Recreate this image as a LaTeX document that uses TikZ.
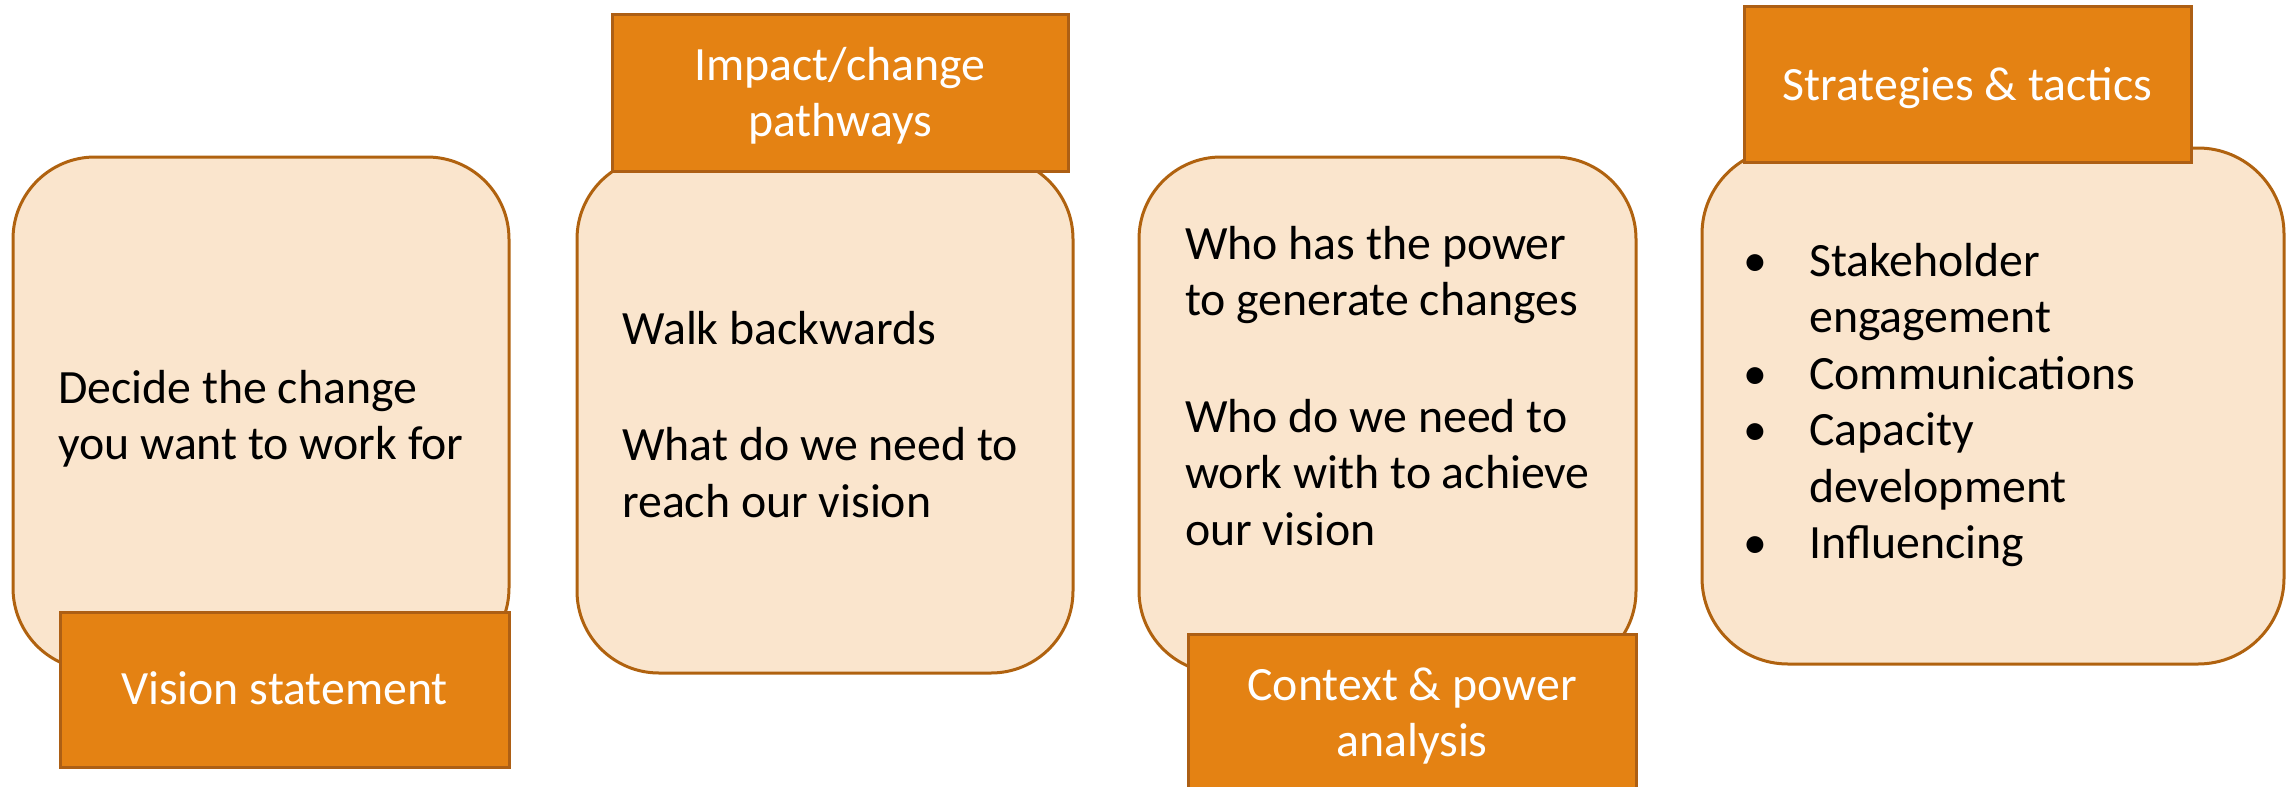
\documentclass[tikz,border=0pt]{standalone}
\usepackage{fontspec}
\setmainfont{Carlito}
\definecolor{cardfill}{HTML}{FAE5CD}
\definecolor{cardline}{HTML}{B0620F}
\definecolor{tabfill}{HTML}{E48213}
\definecolor{tabline}{HTML}{AD5F14}
\newcommand\bodyfont{\fontsize{47.8}{56.5}\selectfont}
\newcommand\bul{\makebox[54pt][l]{\makebox[0pt]{•}}}
\tikzset{
  card/.style={draw=cardline, fill=cardfill, line width=3pt, rounded corners=82pt,
    rectangle, inner sep=0pt},
  tab/.style={draw=tabline, fill=tabfill, line width=3pt, rectangle, inner sep=0pt},
  body/.style={anchor=base west, inner sep=0pt, font=\bodyfont, text=black},
  tabtext/.style={anchor=base, inner sep=0pt, font=\bodyfont, text=white},
}
\begin{document}
\begin{tikzpicture}[x=1pt,y=-1pt]
\useasboundingbox (0,0) rectangle (2295,787);

% cards
\node[card, minimum width=496pt, minimum height=513pt] (c1) at (261,413.5) {};
\node[card, minimum width=496pt, minimum height=516pt] (c2) at (825,415) {};
\node[card, minimum width=497pt, minimum height=516pt] (c3) at (1387.5,415) {};
\node[card, rounded corners=86pt, minimum width=582pt, minimum height=516pt] (c4) at (1993,406) {};

% headline tabs
\node[tab, minimum width=449pt, minimum height=155pt] (t1) at (284.5,689.5) {};
\node[tab, minimum width=456pt, minimum height=157pt] (t2) at (840,92.5) {};
\node[tab, minimum width=448pt, minimum height=170pt] (t3) at (1412,719) {};
\node[tab, minimum width=447pt, minimum height=156pt] (t4) at (1967.5,84) {};

% tab captions
\node[tabtext] (t1text) at (284.5,704) {Vision statement};
\node[tabtext] (t2text) at (840,80) {\begin{tabular}[t]{@{}c@{}}Impact/change\\pathways\end{tabular}};
\node[tabtext] (t3text) at (1412,700) {\begin{tabular}[t]{@{}c@{}}Context \& power\\analysis\end{tabular}};
\node[tabtext] (t4text) at (1967.5,100) {Strategies \& tactics};

% card texts
\node[body] (c1text) at (58,403) {\begin{tabular}[t]{@{}l@{}}Decide the change\\you want to work for\end{tabular}};
\node[body] (c2text) at (622,344) {\begin{tabular}[t]{@{}l@{}}Walk backwards\\[60pt]What do we need to\\reach our vision\end{tabular}};
\node[body] (c3text) at (1185,259) {\begin{tabular}[t]{@{}l@{}}Who has the power\\to generate changes\\[60pt]Who do we need to\\work with to achieve\\our vision\end{tabular}};
\node[body] (c4text) at (1755,276) {\begin{tabular}[t]{@{}l@{}}\bul Stakeholder\\\hspace*{54pt}engagement\\\bul Communications\\\bul Capacity\\\hspace*{54pt}development\\\bul Influencing\end{tabular}};
\end{tikzpicture}
\end{document}
